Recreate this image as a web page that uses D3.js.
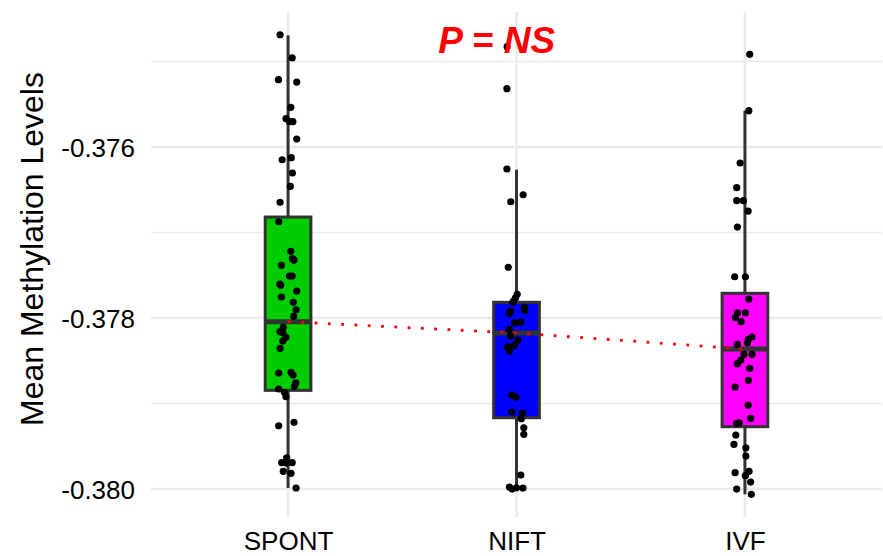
<!DOCTYPE html>
<meta charset="utf-8" />
<style>
  body { margin: 0; background: #fff; }
  svg text { font-family: "Liberation Sans", Arial, sans-serif; }
</style>
<body>
<script src="https://d3js.org/d3.v7.min.js"></script>
<script>
  // groups and colours
  var groups = ['SPONT', 'NIFT', 'IVF'];
  var fills = ['#00CD00', '#0000FF', '#FF00FF'];

  // box statistics: [lower whisker, q1, median, q3, upper whisker]
  var boxStats = [
    [-0.379988, -0.378846, -0.378043, -0.376819, -0.374694],
    [-0.380000, -0.379166, -0.378175, -0.377816, -0.376265],
    [-0.380062, -0.379271, -0.378363, -0.377711, -0.375575]
  ];

  // jittered sample points, value and horizontal jitter (in category steps)
  var spontVals = [-0.374687, -0.374956, -0.375213, -0.375240, -0.375536, -0.375669, -0.375704, -0.375704,
    -0.375906, -0.376149, -0.376125, -0.376304, -0.376460, -0.376647, -0.376874, -0.377220, -0.377322,
    -0.377306, -0.377384, -0.377509, -0.377509, -0.377602, -0.377618, -0.377684, -0.377754, -0.377816,
    -0.377903, -0.377980, -0.378109, -0.378160, -0.378172, -0.378226, -0.378269, -0.378354, -0.378643,
    -0.378635, -0.378667, -0.378757, -0.378799, -0.378830, -0.378869, -0.378920, -0.379260, -0.379220,
    -0.379634, -0.379692, -0.379692, -0.379699, -0.379793, -0.379816, -0.379988];
  var spontJit = [-0.035, 0.018, -0.042, 0.038, 0.012, -0.009, 0.006, 0.021, 0.038, -0.026, 0.014, 0.019,
    0.010, -0.035, -0.041, 0.012, 0.026, 0.019, -0.029, 0.006, 0.018, -0.036, -0.032, 0.038, -0.029, 0.023,
    0.035, 0.025, -0.021, -0.035, -0.023, -0.009, -0.023, -0.035, -0.041, 0.013, 0.022, 0.034, 0.028,
    -0.041, -0.016, -0.009, -0.041, 0.026, -0.006, -0.028, 0.018, -0.006, -0.021, 0.013, 0.035];

  var niftVals = [-0.374827, -0.375318, -0.376257, -0.376558, -0.376640, -0.377406, -0.377723, -0.377763,
    -0.377798, -0.377816, -0.377918, -0.377945, -0.377875, -0.377910, -0.378055, -0.378047, -0.378132,
    -0.378211, -0.378257, -0.378319, -0.378336, -0.378386, -0.378901, -0.378924, -0.379099, -0.379111,
    -0.379178, -0.379283, -0.379360, -0.379836, -0.379977, -0.380000, -0.379985, -0.379988];
  var niftJit = [-0.041, -0.042, -0.042, 0.029, -0.025, -0.036, 0.003, -0.004, -0.012, -0.016, -0.026,
    -0.031, 0.035, 0.036, -0.009, 0.019, -0.032, -0.026, 0.006, -0.009, -0.039, -0.031, -0.021, -0.003,
    -0.021, 0.026, 0.021, 0.032, 0.032, 0.019, -0.031, -0.019, 0.000, 0.028];

  var ivfVals = [-0.374916, -0.375575, -0.376187, -0.376476, -0.376628, -0.376628, -0.376749, -0.376936,
    -0.377517, -0.377517, -0.377778, -0.377938, -0.377938, -0.377996, -0.378043, -0.378222, -0.378249,
    -0.378289, -0.378308, -0.378425, -0.378425, -0.378491, -0.378534, -0.378588, -0.378729, -0.378807,
    -0.379021, -0.379173, -0.379232, -0.379225, -0.379368, -0.379477, -0.379517, -0.379614, -0.379809,
    -0.379793, -0.379844, -0.379918, -0.380000, -0.380062];
  var ivfJit = [0.021, 0.017, -0.021, -0.036, -0.036, -0.007, 0.014, -0.033, -0.045, 0.002, 0.017, -0.033,
    0.002, -0.042, -0.017, 0.031, 0.015, 0.011, -0.033, -0.004, 0.031, -0.018, -0.033, 0.021, 0.015,
    -0.043, 0.014, 0.025, -0.036, -0.025, -0.040, -0.048, 0.004, 0.004, -0.043, 0.018, 0.002, 0.025,
    -0.036, 0.028];

  var yTicks = [-0.380, -0.378, -0.376];
  var yMinor = [-0.379, -0.377, -0.375];
  var yDomain = [-0.380327, -0.374421];
  var pLabel = 'P = NS';

  var width = 883, height = 556;
  var panel = { left: 151, right: 882, top: 12, bottom: 517 };

  var svg = d3.select('body').append('svg')
    .attr('width', width)
    .attr('height', height);

  var x = d3.scalePoint().domain(groups).range([panel.left, panel.right]).padding(0.6);
  var y = d3.scaleLinear().domain(yDomain).range([panel.bottom, panel.top]);
  var step = x.step();

  // grid
  var grid = svg.append('g');
  grid.selectAll('.minor').data(yMinor).enter().append('line')
    .attr('x1', panel.left).attr('x2', panel.right)
    .attr('y1', function (d) { return y(d); }).attr('y2', function (d) { return y(d); })
    .attr('stroke', '#EBEBEB').attr('stroke-width', 1.6);
  grid.selectAll('.major').data(yTicks).enter().append('line')
    .attr('x1', panel.left).attr('x2', panel.right)
    .attr('y1', function (d) { return y(d); }).attr('y2', function (d) { return y(d); })
    .attr('stroke', '#EBEBEB').attr('stroke-width', 2.6);
  grid.selectAll('.vmajor').data(groups).enter().append('line')
    .attr('x1', function (d) { return x(d); }).attr('x2', function (d) { return x(d); })
    .attr('y1', panel.top).attr('y2', panel.bottom)
    .attr('stroke', '#EBEBEB').attr('stroke-width', 2.6);

  // axes (no lines, only labels); plain hyphen for the minus sign
  var fmt = d3.format('.3f');
  var yAxis = svg.append('g')
    .attr('transform', 'translate(' + (panel.left - 16) + ',0)')
    .call(d3.axisLeft(y).tickValues(yTicks)
      .tickFormat(function (d) { return fmt(d).replace('\u2212', '-'); })
      .tickSize(0).tickPadding(0));
  yAxis.select('.domain').remove();
  yAxis.selectAll('text')
    .attr('font-size', 26).attr('fill', '#000')
    .attr('font-family', '"Liberation Sans", Arial, sans-serif')
    .attr('dy', '0.36em');

  var xAxis = svg.append('g')
    .attr('transform', 'translate(0,' + panel.bottom + ')')
    .call(d3.axisBottom(x).tickSize(0).tickPadding(0));
  xAxis.select('.domain').remove();
  xAxis.selectAll('text')
    .attr('font-size', 26).attr('fill', '#000')
    .attr('font-family', '"Liberation Sans", Arial, sans-serif')
    .attr('dy', null).attr('y', 33);

  svg.append('text')
    .attr('transform', 'translate(42.5,249) rotate(-90)')
    .attr('text-anchor', 'middle')
    .attr('font-size', 32)
    .attr('fill', '#000')
    .text('Mean Methylation Levels');

  // boxplots
  var halfW = step * 0.1;
  var boxes = svg.append('g').selectAll('g').data(groups).enter().append('g');
  boxes.append('line')
    .attr('x1', function (d) { return x(d); }).attr('x2', function (d) { return x(d); })
    .attr('y1', function (d, i) { return y(boxStats[i][3]); })
    .attr('y2', function (d, i) { return y(boxStats[i][4]); })
    .attr('stroke', '#333').attr('stroke-width', 3);
  boxes.append('line')
    .attr('x1', function (d) { return x(d); }).attr('x2', function (d) { return x(d); })
    .attr('y1', function (d, i) { return y(boxStats[i][1]); })
    .attr('y2', function (d, i) { return y(boxStats[i][0]); })
    .attr('stroke', '#333').attr('stroke-width', 3);
  boxes.append('rect')
    .attr('x', function (d) { return x(d) - halfW; })
    .attr('width', halfW * 2)
    .attr('y', function (d, i) { return y(boxStats[i][3]); })
    .attr('height', function (d, i) { return y(boxStats[i][1]) - y(boxStats[i][3]); })
    .attr('fill', function (d, i) { return fills[i]; })
    .attr('stroke', '#333').attr('stroke-width', 3);
  boxes.append('line')
    .attr('x1', function (d) { return x(d) - halfW; }).attr('x2', function (d) { return x(d) + halfW; })
    .attr('y1', function (d, i) { return y(boxStats[i][2]); })
    .attr('y2', function (d, i) { return y(boxStats[i][2]); })
    .attr('stroke', '#333').attr('stroke-width', 5);

  // jittered points
  var pts = [];
  [[spontVals, spontJit], [niftVals, niftJit], [ivfVals, ivfJit]].forEach(function (s, gi) {
    s[0].forEach(function (v, k) { pts.push({ g: groups[gi], v: v, j: s[1][k] }); });
  });
  svg.append('g').selectAll('circle').data(pts).enter().append('circle')
    .attr('cx', function (d) { return x(d.g) + d.j * step; })
    .attr('cy', function (d) { return y(d.v); })
    .attr('r', 3.6)
    .attr('fill', '#000');

  // median trend line
  var line = d3.line()
    .x(function (d) { return x(d); })
    .y(function (d, i) { return y(boxStats[i][2]); });
  svg.append('path')
    .datum(groups)
    .attr('d', line)
    .attr('fill', 'none')
    .attr('stroke', '#FF0000')
    .attr('stroke-width', 2.8)
    .attr('stroke-dasharray', '2.8 10.5');

  svg.append('text')
    .attr('x', 496.7).attr('y', 52.7)
    .attr('text-anchor', 'middle')
    .attr('font-size', 37)
    .attr('font-weight', 'bold')
    .attr('font-style', 'italic')
    .attr('fill', '#FF0000')
    .text(pLabel);
</script>
</body>
